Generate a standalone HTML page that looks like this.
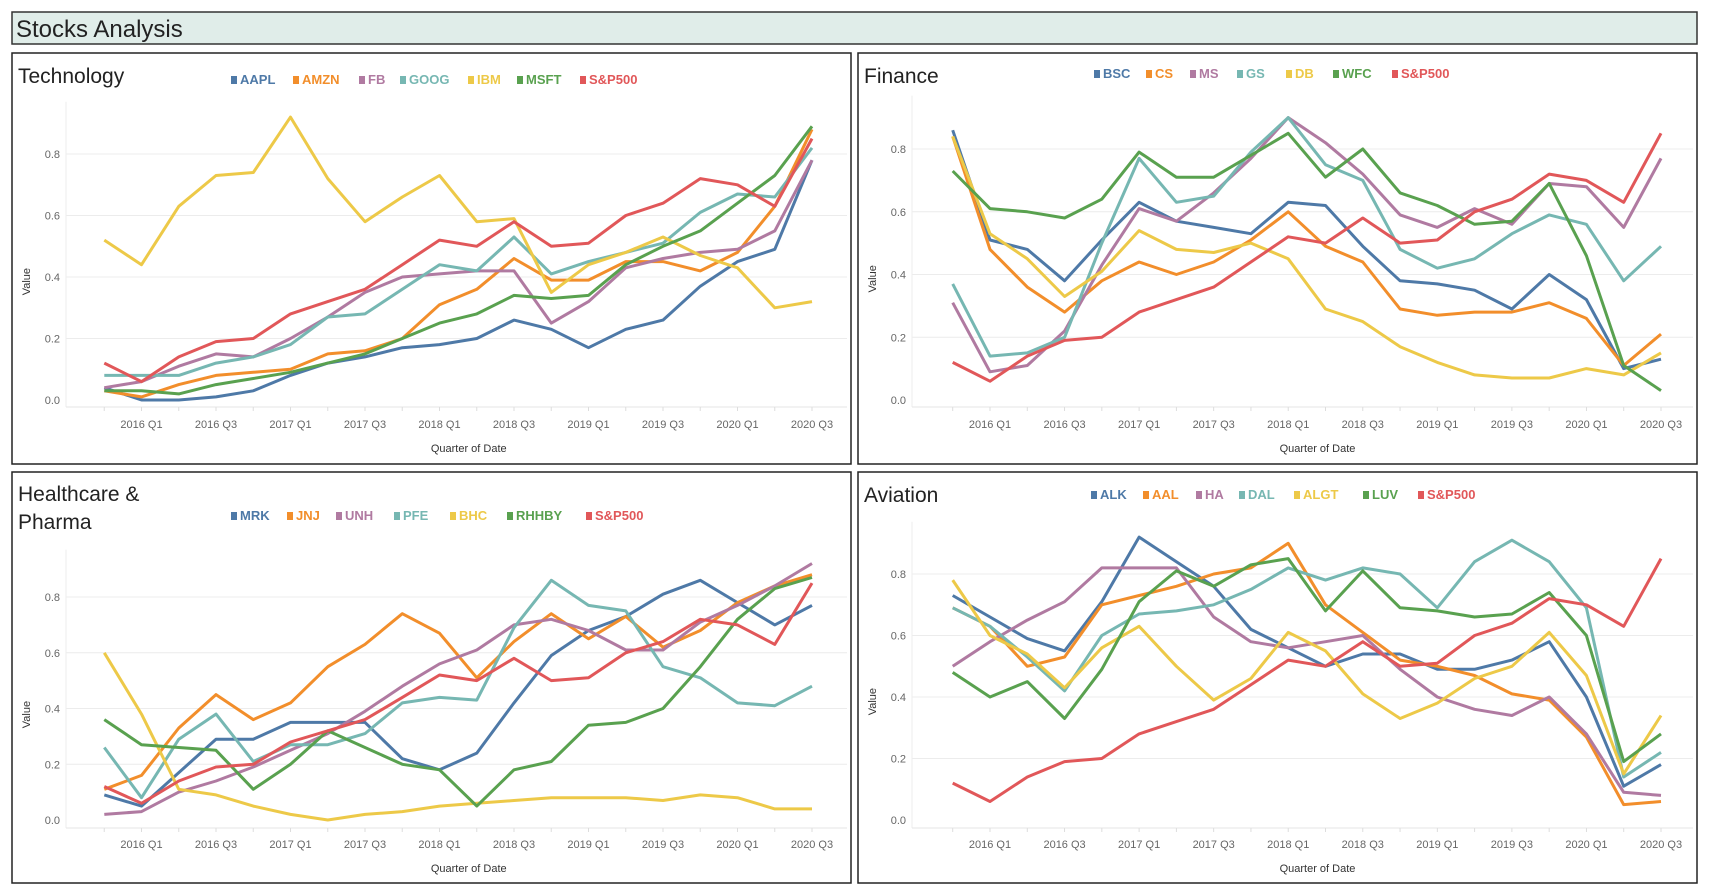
<!DOCTYPE html>
<html><head><meta charset="utf-8">
<style>
html,body{margin:0;padding:0;background:#fff;}
svg{display:block;font-family:"Liberation Sans",sans-serif;}
</style></head>
<body>
<svg id="root" width="1709" height="896" viewBox="0 0 1709 896">
  <rect x="12" y="12" width="1685" height="32" fill="#e0ede9" stroke="#333" stroke-width="1.5"/>
  <text x="16" y="37" font-size="24" fill="#222">Stocks Analysis</text>
</svg>
<script>
const quarters = ["2015 Q4","2016 Q1","2016 Q2","2016 Q3","2016 Q4","2017 Q1","2017 Q2","2017 Q3","2017 Q4","2018 Q1","2018 Q2","2018 Q3","2018 Q4","2019 Q1","2019 Q2","2019 Q3","2019 Q4","2020 Q1","2020 Q2","2020 Q3"];
const tickLabels = ["2016 Q1","2016 Q3","2017 Q1","2017 Q3","2018 Q1","2018 Q3","2019 Q1","2019 Q3","2020 Q1","2020 Q3"];
const yTicks = [0.0,0.2,0.4,0.6,0.8];
const sp500 = [0.12,0.06,0.14,0.19,0.20,0.28,0.32,0.36,0.44,0.52,0.50,0.58,0.50,0.51,0.60,0.64,0.72,0.70,0.63,0.85];

const techNames = ["AAPL","AMZN","FB","GOOG","IBM","MSFT","S&P500"];
const aapl = [0.04,0.0,0.0,0.01,0.03,0.08,0.12,0.14,0.17,0.18,0.20,0.26,0.23,0.17,0.23,0.26,0.37,0.45,0.49,0.78];
const amzn = [0.03,0.01,0.05,0.08,0.09,0.10,0.15,0.16,0.20,0.31,0.36,0.46,0.39,0.39,0.45,0.45,0.42,0.48,0.63,0.88];
const fb = [0.04,0.06,0.11,0.15,0.14,0.20,0.27,0.35,0.40,0.41,0.42,0.42,0.25,0.32,0.43,0.46,0.48,0.49,0.55,0.78];
const goog = [0.08,0.08,0.08,0.12,0.14,0.18,0.27,0.28,0.36,0.44,0.42,0.53,0.41,0.45,0.48,0.51,0.61,0.67,0.66,0.82];
const ibm = [0.52,0.44,0.63,0.73,0.74,0.92,0.72,0.58,0.66,0.73,0.58,0.59,0.35,0.44,0.48,0.53,0.47,0.43,0.30,0.32];
const msft = [0.03,0.03,0.02,0.05,0.07,0.09,0.12,0.15,0.20,0.25,0.28,0.34,0.33,0.34,0.44,0.50,0.55,0.64,0.73,0.89];

const finNames = ["BSC","CS","MS","GS","DB","WFC","S&P500"];
const bsc = [0.86,0.51,0.48,0.38,0.51,0.63,0.57,0.55,0.53,0.63,0.62,0.49,0.38,0.37,0.35,0.29,0.40,0.32,0.10,0.13];
const cs = [0.84,0.48,0.36,0.28,0.38,0.44,0.40,0.44,0.51,0.60,0.49,0.44,0.29,0.27,0.28,0.28,0.31,0.26,0.11,0.21];
const ms = [0.31,0.09,0.11,0.22,0.43,0.61,0.57,0.66,0.77,0.90,0.82,0.72,0.59,0.55,0.61,0.56,0.69,0.68,0.55,0.77];
const gs = [0.37,0.14,0.15,0.20,0.50,0.77,0.63,0.65,0.79,0.90,0.75,0.70,0.48,0.42,0.45,0.53,0.59,0.56,0.38,0.49];
const db = [0.84,0.53,0.45,0.33,0.41,0.54,0.48,0.47,0.50,0.45,0.29,0.25,0.17,0.12,0.08,0.07,0.07,0.10,0.08,0.15];
const wfc = [0.73,0.61,0.60,0.58,0.64,0.79,0.71,0.71,0.78,0.85,0.71,0.80,0.66,0.62,0.56,0.57,0.69,0.46,0.11,0.03];

const hcNames = ["MRK","JNJ","UNH","PFE","BHC","RHHBY","S&P500"];
const mrk = [0.09,0.05,0.17,0.29,0.29,0.35,0.35,0.35,0.22,0.18,0.24,0.42,0.59,0.68,0.73,0.81,0.86,0.78,0.70,0.77];
const jnj = [0.11,0.16,0.33,0.45,0.36,0.42,0.55,0.63,0.74,0.67,0.51,0.64,0.74,0.65,0.73,0.62,0.68,0.78,0.84,0.88];
const unh = [0.02,0.03,0.10,0.14,0.19,0.25,0.31,0.39,0.48,0.56,0.61,0.70,0.72,0.68,0.61,0.61,0.71,0.77,0.84,0.92];
const pfe = [0.26,0.08,0.29,0.38,0.21,0.27,0.27,0.31,0.42,0.44,0.43,0.69,0.86,0.77,0.75,0.55,0.51,0.42,0.41,0.48];
const bhc = [0.60,0.38,0.11,0.09,0.05,0.02,0.00,0.02,0.03,0.05,0.06,0.07,0.08,0.08,0.08,0.07,0.09,0.08,0.04,0.04];
const rhhby = [0.36,0.27,0.26,0.25,0.11,0.20,0.32,0.26,0.20,0.18,0.05,0.18,0.21,0.34,0.35,0.40,0.55,0.72,0.83,0.87];

const avNames = ["ALK","AAL","HA","DAL","ALGT","LUV","S&P500"];
const alk = [0.73,0.66,0.59,0.55,0.71,0.92,0.84,0.76,0.62,0.56,0.50,0.54,0.54,0.49,0.49,0.52,0.58,0.40,0.11,0.18];
const aal = [0.69,0.63,0.50,0.53,0.70,0.73,0.76,0.80,0.82,0.90,0.70,0.61,0.52,0.50,0.47,0.41,0.39,0.27,0.05,0.06];
const ha = [0.50,0.58,0.65,0.71,0.82,0.82,0.82,0.66,0.58,0.56,0.58,0.60,0.49,0.40,0.36,0.34,0.40,0.28,0.09,0.08];
const dal = [0.69,0.63,0.53,0.42,0.60,0.67,0.68,0.70,0.75,0.82,0.78,0.82,0.80,0.69,0.84,0.91,0.84,0.69,0.14,0.22];
const algt = [0.78,0.60,0.54,0.43,0.56,0.63,0.50,0.39,0.46,0.61,0.55,0.41,0.33,0.38,0.46,0.50,0.61,0.47,0.15,0.34];
const luv = [0.48,0.40,0.45,0.33,0.49,0.71,0.81,0.76,0.83,0.85,0.68,0.81,0.69,0.68,0.66,0.67,0.74,0.60,0.19,0.28];

const colors = ["#4e79a7","#f28e2b","#b07aa1","#76b7b2","#edc948","#59a14f","#e15759"];
const NS = "http://www.w3.org/2000/svg";
const root = document.getElementById("root");

function el(tag, attrs, parent){
  const e = document.createElementNS(NS, tag);
  for (const k in attrs) e.setAttribute(k, attrs[k]);
  (parent||root).appendChild(e);
  return e;
}

const panels = [
  {key:"technology", title:["Technology"], names:techNames, series:[aapl,amzn,fb,goog,ibm,msft,sp500],
   box:[12,53,839,411], y0:400, y8:154, x0:141.5, x1:812, axisY:407, tickY:428, xtY:452, legY:83,
   legX:[231,293,359,400,468,517,580]},
  {key:"finance", title:["Finance"], names:finNames, series:[bsc,cs,ms,gs,db,wfc,sp500],
   box:[858,53,839,411], y0:400, y8:149, x0:990, x1:1661, axisY:407, tickY:428, xtY:452, legY:77,
   legX:[1094,1146,1190,1237,1286,1333,1392]},
  {key:"healthcare", title:["Healthcare &","Pharma"], names:hcNames, series:[mrk,jnj,unh,pfe,bhc,rhhby,sp500],
   box:[12,472,839,411], y0:820, y8:597, x0:141.5, x1:812, axisY:828, tickY:848, xtY:872, legY:519,
   legX:[231,287,336,394,450,507,586]},
  {key:"aviation", title:["Aviation"], names:avNames, series:[alk,aal,ha,dal,algt,luv,sp500],
   box:[858,472,839,411], y0:820, y8:574, x0:990, x1:1661, axisY:828, tickY:848, xtY:872, legY:498,
   legX:[1091,1143,1196,1239,1294,1363,1418]}
];

panels.forEach(p => {
  const g = el("g", {});
  
  
  const [bx,by,bw,bh] = p.box;
  const frame = el("rect", {x:bx, y:by, width:bw, height:bh, fill:"#fff", stroke:"#222", "stroke-width":1.5}, g);
  
  

  p.title.forEach((t,i) => {
    const tt = el("text", {x:bx+6, y:by+(p.title.length>1?29:30)+i*28, "font-size":21, fill:"#222"}, g);
    tt.textContent = t;
    
    
  });

  const step = (p.x1 - p.x0) / 18;
  const xs = i => p.x0 + (i - 1) * step;
  const ys = v => p.y0 - v * (p.y0 - p.y8) / 0.8;
  const left = bx + 54, right = bx + bw - 4;

  yTicks.forEach(v => {
    if (v > 0) {
      const gl = el("line", {x1:left, x2:right, y1:ys(v), y2:ys(v), stroke:"#ececec", "stroke-width":1}, g);
      
      
    }
    const tl = el("text", {x:left-6, y:ys(v)+4, "font-size":11, fill:"#666", "text-anchor":"end"}, g);
    tl.textContent = v.toFixed(1);
    
    
  });
  const yax = el("line", {x1:left, x2:left, y1:ys(0.97), y2:p.axisY, stroke:"#eee", "stroke-width":1}, g);
  
  
  const xax = el("line", {x1:left, x2:right, y1:p.axisY, y2:p.axisY, stroke:"#e6e6e6", "stroke-width":1}, g);
  
  
  quarters.forEach((q,i) => {
    const tk = el("line", {x1:xs(i), x2:xs(i), y1:p.axisY, y2:p.axisY+4, stroke:"#ddd", "stroke-width":1}, g);
    
    
  });
  tickLabels.forEach(lbl => {
    const i = quarters.indexOf(lbl);
    const tl = el("text", {x:xs(i), y:p.tickY, "font-size":11, fill:"#666", "text-anchor":"middle"}, g);
    tl.textContent = lbl;
    
    
  });
  const xt = el("text", {x:(p.x0+p.x1)/2 - 8, y:p.xtY, "font-size":11, fill:"#333", "text-anchor":"middle"}, g);
  xt.textContent = "Quarter of Date";
  
  
  const yc = (ys(0) + ys(0.9)) / 2 + 20;
  const yt = el("text", {x:bx+18, y:yc, "font-size":11, fill:"#333", "text-anchor":"middle", transform:`rotate(-90 ${bx+18} ${yc})`}, g);
  yt.textContent = "Value";
  
  

  p.series.forEach((s, k) => {
    const d = s.map((v,i) => (i?"L":"M") + xs(i).toFixed(1) + " " + ys(v).toFixed(1)).join(" ");
    const path = el("path", {d:d, fill:"none", stroke:colors[k], "stroke-width":3, "stroke-linejoin":"round"}, g);
    
    
  });

  p.names.forEach((n, k) => {
    const lx = p.legX[k];
    const sq = el("rect", {x:lx, y:p.legY-7, width:6, height:8, fill:colors[k]}, g);
    
    
    const lt = el("text", {x:lx+9, y:p.legY+1, "font-size":13, "font-weight":"bold", fill:colors[k]}, g);
    lt.textContent = n;
    
    
  });
});
</script>
</body></html>
